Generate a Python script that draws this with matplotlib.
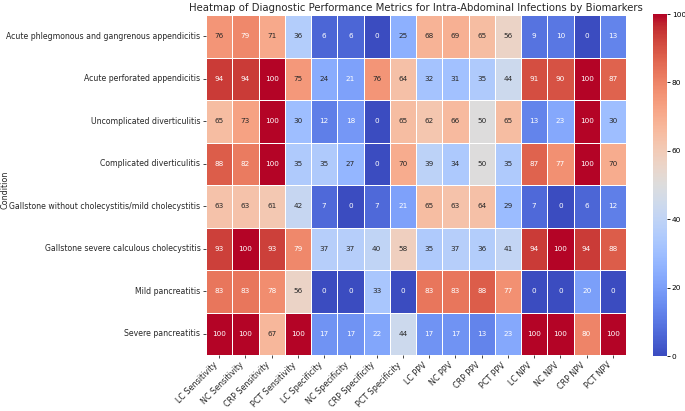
import matplotlib
matplotlib.use("Agg")
import matplotlib.pyplot as plt
import seaborn as sns
import numpy as np
import pandas as pd

conditions = [
    "Acute phlegmonous and gangrenous appendicitis",
    "Acute perforated appendicitis",
    "Uncomplicated diverticulitis",
    "Complicated diverticulitis",
    "Gallstone without cholecystitis/mild cholecystitis",
    "Gallstone severe calculous cholecystitis",
    "Mild pancreatitis",
    "Severe pancreatitis",
]
metrics = [
    "LC Sensitivity", "NC Sensitivity", "CRP Sensitivity", "PCT Sensitivity",
    "LC Specificity", "NC Specificity", "CRP Specificity", "PCT Specificity",
    "LC PPV", "NC PPV", "CRP PPV", "PCT PPV",
    "LC NPV", "NC NPV", "CRP NPV", "PCT NPV",
]
row_phleg = [76, 79, 71, 36, 6, 6, 0, 25, 68, 69, 65, 56, 9, 10, 0, 13]
row_perf = [94, 94, 100, 75, 24, 21, 76, 64, 32, 31, 35, 44, 91, 90, 100, 87]
row_uncomp = [65, 73, 100, 30, 12, 18, 0, 65, 62, 66, 50, 65, 13, 23, 100, 30]
row_comp = [88, 82, 100, 35, 35, 27, 0, 70, 39, 34, 50, 35, 87, 77, 100, 70]
row_gall_mild = [63, 63, 61, 42, 7, 0, 7, 21, 65, 63, 64, 29, 7, 0, 6, 12]
row_gall_sev = [93, 100, 93, 79, 37, 37, 40, 58, 35, 37, 36, 41, 94, 100, 94, 88]
row_pan_mild = [83, 83, 78, 56, 0, 0, 33, 0, 83, 83, 88, 77, 0, 0, 20, 0]
row_pan_sev = [100, 100, 67, 100, 17, 17, 22, 44, 17, 17, 13, 23, 100, 100, 80, 100]

df = pd.DataFrame([row_phleg, row_perf, row_uncomp, row_comp, row_gall_mild,
                   row_gall_sev, row_pan_mild, row_pan_sev],
                  index=conditions, columns=metrics)

W, H = 685, 411
fig = plt.figure(figsize=(W / 100, H / 100), dpi=100)
ax = fig.add_axes([206 / W, 1 - 355 / H, (626 - 206) / W, (355 - 15) / H])
cax = fig.add_axes([653 / W, 1 - 356 / H, (667 - 653) / W, (356 - 14) / H])

sns.heatmap(df, ax=ax, cbar_ax=cax, cmap="coolwarm", vmin=0, vmax=100,
            annot=True, fmt="d", linewidths=0.7, linecolor="white",
            annot_kws={"fontsize": 5.2})

ax.set_title("Heatmap of Diagnostic Performance Metrics for Intra-Abdominal Infections by Biomarkers",
             fontsize=7.3, pad=3, color="#262626")
ax.set_ylabel("Condition", fontsize=5.8, color="#262626")
ax.yaxis.set_label_coords((10 - 206) / 420, (355 - 190) / 340)
ax.set_xlabel("")
ax.set_xticklabels(metrics, rotation=45, ha="right", fontsize=5.8, color="#262626")
ax.set_yticklabels(conditions, rotation=0, fontsize=5.6, color="#262626")
ax.tick_params(axis="both", length=2.5, width=0.6, color="#262626", pad=1.5)
cax.tick_params(labelsize=5.3, length=2.5, width=0.6, pad=1)

fig.savefig("out.png", dpi=100)
